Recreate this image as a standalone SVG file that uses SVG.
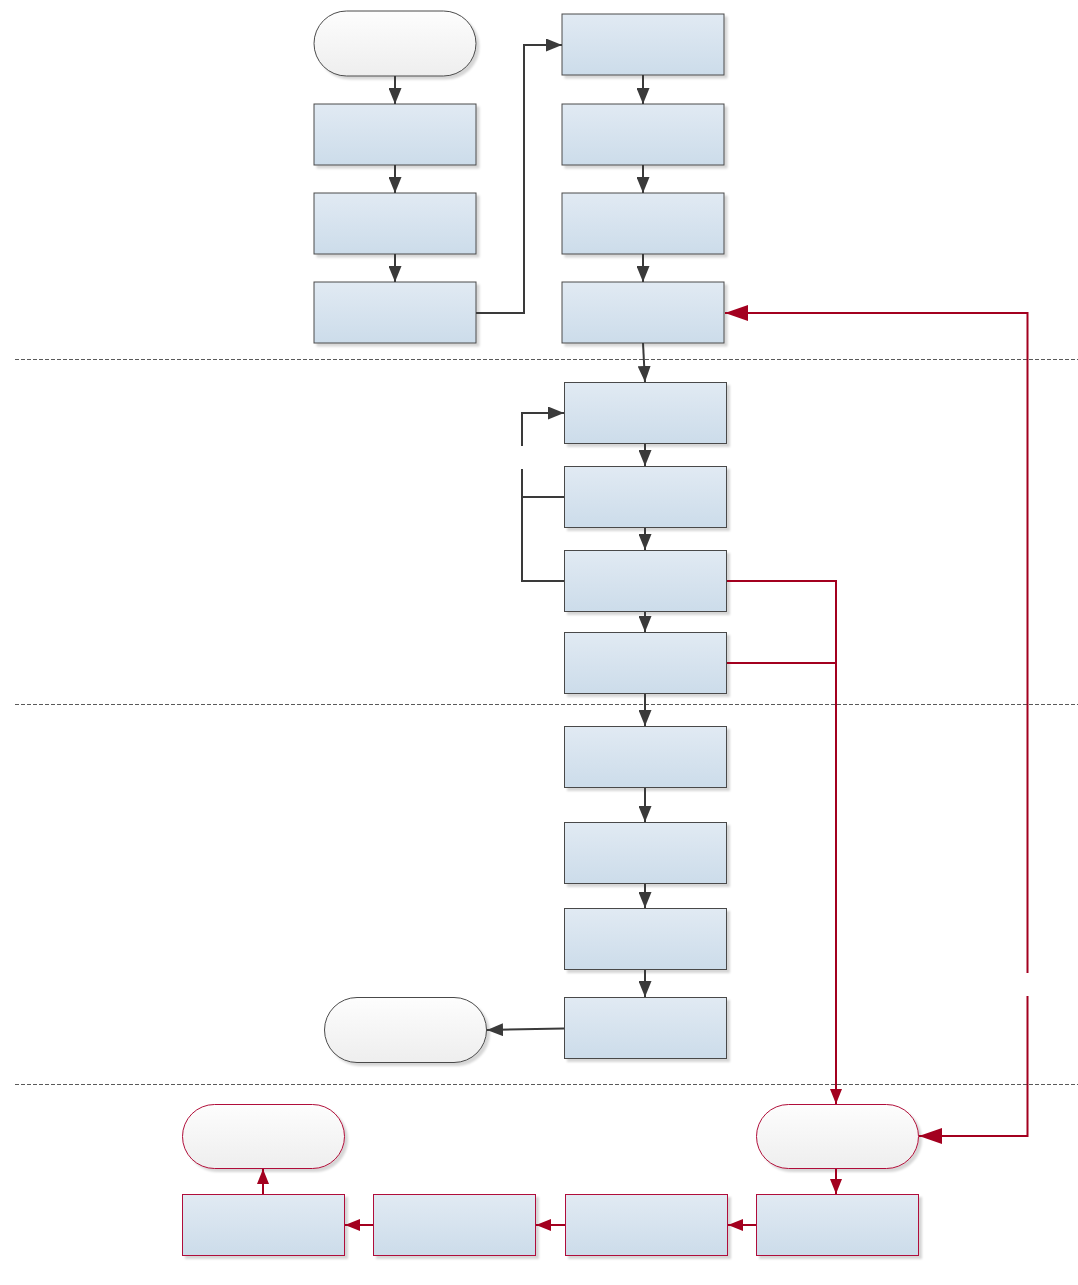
<svg xmlns="http://www.w3.org/2000/svg" width="1078" height="1285" viewBox="0 0 1078 1285">
<defs>
  <linearGradient id="gBox" x1="0" y1="0" x2="0" y2="1">
    <stop offset="0" stop-color="#e1eaf3"/>
    <stop offset="1" stop-color="#ccdcea"/>
  </linearGradient>
  <linearGradient id="gTerm" x1="0" y1="0" x2="0" y2="1">
    <stop offset="0" stop-color="#fdfdfd"/>
    <stop offset="1" stop-color="#eeeeee"/>
  </linearGradient>
  <filter id="shadow" x="-10%" y="-10%" width="130%" height="140%">
    <feDropShadow dx="3" dy="3" stdDeviation="1" flood-color="#000" flood-opacity="0.16"/>
  </filter>
  <marker id="aDark" markerUnits="userSpaceOnUse" markerWidth="16" markerHeight="13" refX="16" refY="6.5" orient="auto">
    <path d="M0,0 L16,6.5 L0,13 z" fill="#3a3a3a"/>
  </marker>
  <marker id="aRed" markerUnits="userSpaceOnUse" markerWidth="15" markerHeight="12" refX="15" refY="6" orient="auto">
    <path d="M0,0 L15,6 L0,12 z" fill="#a3001f"/>
  </marker>
  <marker id="aRedBig" markerUnits="userSpaceOnUse" markerWidth="23" markerHeight="16" refX="23" refY="8" orient="auto">
    <path d="M0,0 L23,8 L0,16 z" fill="#a3001f"/>
  </marker>
  <style>
    .box{fill:url(#gBox);stroke:#4a4a4a;stroke-width:1;filter:url(#shadow)}
    .term{fill:url(#gTerm);stroke:#4a4a4a;stroke-width:1;filter:url(#shadow)}
    .rbox{fill:url(#gBox);stroke:#b0103a;stroke-width:1;filter:url(#shadow)}
    .rterm{fill:url(#gTerm);stroke:#b0103a;stroke-width:1;filter:url(#shadow)}
    .c{fill:none;stroke:#3a3a3a;stroke-width:2}
    .ca{fill:none;stroke:#3a3a3a;stroke-width:2;marker-end:url(#aDark)}
    .r{fill:none;stroke:#a3001f;stroke-width:2}
    .ra{fill:none;stroke:#a3001f;stroke-width:2;marker-end:url(#aRed)}
    .rb{fill:none;stroke:#a3001f;stroke-width:2;marker-end:url(#aRedBig)}
    .lane{stroke:#5a5a5a;stroke-width:1;stroke-dasharray:4 2;fill:none}
  </style>
</defs>
<rect width="1078" height="1285" fill="#ffffff"/>

<g id="lanes">
  <line class="lane" x1="15" y1="359.5" x2="1078" y2="359.5"/>
  <line class="lane" x1="15" y1="704.5" x2="1078" y2="704.5"/>
  <line class="lane" x1="15" y1="1084.5" x2="1078" y2="1084.5"/>
</g>

<g id="nodes">
  <g id="start"><rect class="term" x="314" y="11" width="162" height="65" rx="32.5"/></g>
  <g id="a1"><rect class="box" x="314" y="104" width="162" height="61"/></g>
  <g id="a2"><rect class="box" x="314" y="193" width="162" height="61"/></g>
  <g id="a3"><rect class="box" x="314" y="282" width="162" height="61"/></g>
  <g id="b1"><rect class="box" x="562" y="14" width="162" height="61"/></g>
  <g id="b2"><rect class="box" x="562" y="104" width="162" height="61"/></g>
  <g id="b3"><rect class="box" x="562" y="193" width="162" height="61"/></g>
  <g id="b4"><rect class="box" x="562" y="282" width="162" height="61"/></g>
  <g id="c1"><rect class="box" x="564.5" y="382.5" width="162" height="61"/></g>
  <g id="c2"><rect class="box" x="564.5" y="466.5" width="162" height="61"/></g>
  <g id="c3"><rect class="box" x="564.5" y="550.5" width="162" height="61"/></g>
  <g id="c4"><rect class="box" x="564.5" y="632.5" width="162" height="61"/></g>
  <g id="d1"><rect class="box" x="564.5" y="726.5" width="162" height="61"/></g>
  <g id="d2"><rect class="box" x="564.5" y="822.5" width="162" height="61"/></g>
  <g id="d3"><rect class="box" x="564.5" y="908.5" width="162" height="61"/></g>
  <g id="d4"><rect class="box" x="564.5" y="997.5" width="162" height="61"/></g>
  <g id="end1"><rect class="term" x="324.5" y="997.5" width="162" height="65" rx="32.5"/></g>
  <g id="rstart"><rect class="rterm" x="756.5" y="1104.5" width="162" height="64" rx="32"/></g>
  <g id="e4"><rect class="rbox" x="756.5" y="1194.5" width="162" height="61"/></g>
  <g id="e3"><rect class="rbox" x="565.5" y="1194.5" width="162" height="61"/></g>
  <g id="e2"><rect class="rbox" x="373.5" y="1194.5" width="162" height="61"/></g>
  <g id="e1"><rect class="rbox" x="182.5" y="1194.5" width="162" height="61"/></g>
  <g id="rend"><rect class="rterm" x="182.5" y="1104.5" width="162" height="64" rx="32"/></g>
</g>

<g id="connectors">
  <path class="ca" d="M395,76 V104"/>
  <path class="ca" d="M395,165 V193"/>
  <path class="ca" d="M395,254 V282"/>
  <path class="ca" d="M476,313 H524 V45 H562"/>
  <path class="ca" d="M643,75 V104"/>
  <path class="ca" d="M643,165 V193"/>
  <path class="ca" d="M643,254 V282"/>
  <path class="ca" d="M643,343 L645,382"/>
  <path class="ca" d="M645,444 V466"/>
  <path class="ca" d="M645,528 V550"/>
  <path class="ca" d="M645,612 V632"/>
  <path class="ca" d="M645,694 V726"/>
  <path class="ca" d="M645,788 V822"/>
  <path class="ca" d="M645,884 V908"/>
  <path class="ca" d="M645,970 V997"/>
  <path class="ca" d="M564,1028.5 L487,1030"/>
  <path class="c" d="M564,581 H522 V469"/>
  <path class="ca" d="M522,446 V413 H564"/>
  <path class="c" d="M564,497 H522"/>
  <path class="r" d="M727,663 H836"/>
  <path class="ra" d="M727,581 H836 V1104"/>
  <path class="rb" d="M1027.5,973 V313 H725"/>
  <path class="rb" d="M1027.5,996 V1136 H919"/>
  <path class="ra" d="M836,1169 V1194"/>
  <path class="ra" d="M756,1225 H728"/>
  <path class="ra" d="M565,1225 H536"/>
  <path class="ra" d="M373,1225 H345"/>
  <path class="ra" d="M263,1194 V1169"/>
</g>
</svg>
